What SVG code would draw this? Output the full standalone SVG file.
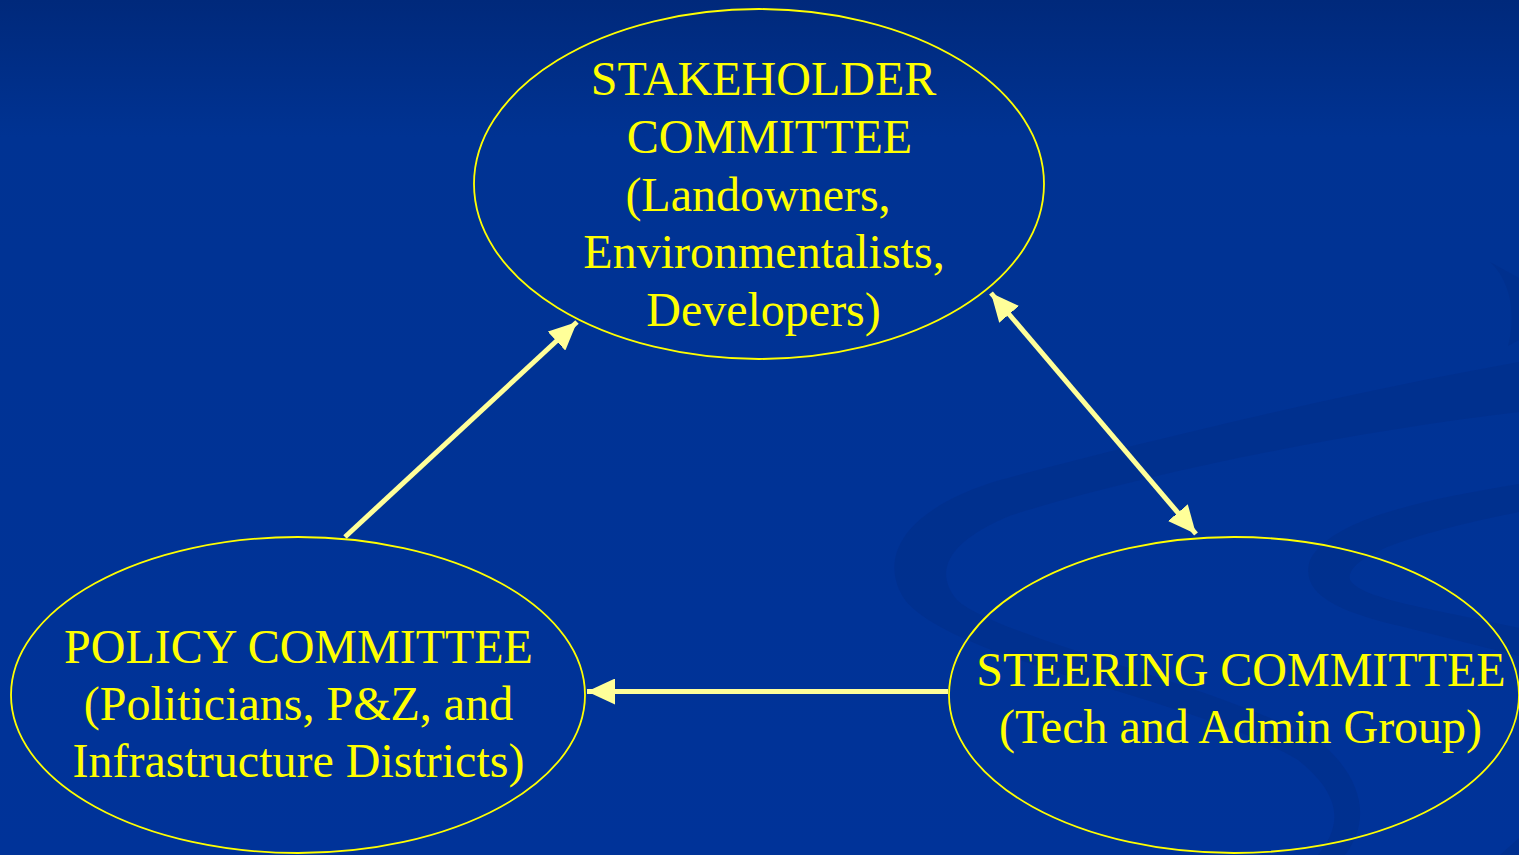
<svg xmlns="http://www.w3.org/2000/svg" width="1519" height="855" viewBox="0 0 1519 855">
  <defs>
    <linearGradient id="bg" x1="0" y1="0" x2="0" y2="1">
      <stop offset="0" stop-color="#00297b"/>
      <stop offset="0.16" stop-color="#003393"/>
      <stop offset="1" stop-color="#003399"/>
    </linearGradient>
    <marker id="head" markerUnits="userSpaceOnUse" markerWidth="28" markerHeight="26" refX="28" refY="13" orient="auto-start-reverse">
      <path d="M0,0 L28,13 L0,26 Z" fill="#ffff99"/>
    </marker>
    <style>
      .node ellipse { fill: none; stroke: #ffff00; stroke-width: 1.8; }
      .node text { font-family: "Liberation Serif", "Times New Roman", serif; font-size: 48px; fill: #ffff00; text-anchor: middle; }
      .link { stroke: #ffff99; stroke-width: 5; fill: none; }
      .swirl { fill: #002d88; opacity: 0.55; }
    </style>
  </defs>

  <!-- background -->
  <rect x="0" y="0" width="1519" height="855" fill="url(#bg)"/>
  <g id="swirls">
    <path class="swirl" d="M1519,362 C1350,392 1150,440 1000,480 C900,510 878,560 905,600 C955,662 1200,700 1298,760 C1348,800 1338,830 1318,855 L1345,855 C1372,820 1362,778 1322,744 C1232,688 1002,640 957,600 C932,570 950,540 1012,515 C1150,472 1350,432 1519,412 Z"/>
    <path class="swirl" d="M1519,484 C1420,500 1330,520 1310,560 C1300,592 1332,610 1400,626 L1519,656 L1519,628 C1440,610 1362,600 1350,580 C1346,558 1400,536 1519,512 Z"/>
    <path class="swirl" d="M1490,262 C1512,282 1516,318 1508,346 L1519,340 L1519,278 Z"/>
    <path class="swirl" d="M1500,855 L1519,838 L1519,855 Z"/>
  </g>

  <!-- connectors -->
  <g id="connectors">
    <line class="link" x1="345" y1="537" x2="577" y2="322" marker-end="url(#head)"/>
    <line class="link" x1="991" y1="293" x2="1196" y2="534" marker-start="url(#head)" marker-end="url(#head)"/>
    <line class="link" x1="948" y1="691.5" x2="587" y2="691.5" marker-end="url(#head)"/>
  </g>

  <g id="stakeholder" class="node">
    <ellipse cx="759" cy="184" rx="285" ry="175"/>
    <text x="763.5" y="95">STAKEHOLDER</text>
    <text x="769.5" y="153">COMMITTEE</text>
    <text x="758" y="211">(Landowners,</text>
    <text x="764" y="268">Environmentalists,</text>
    <text x="763.5" y="326">Developers)</text>
  </g>

  <g id="policy" class="node">
    <ellipse cx="298" cy="695" rx="287" ry="158"/>
    <text x="298.5" y="663">POLICY COMMITTEE</text>
    <text x="298.5" y="720">(Politicians, P&amp;Z, and</text>
    <text x="298.5" y="777">Infrastructure Districts)</text>
  </g>

  <g id="steering" class="node">
    <ellipse cx="1234" cy="695" rx="285" ry="158"/>
    <text x="1241" y="686">STEERING COMMITTEE</text>
    <text x="1240.5" y="743">(Tech and Admin Group)</text>
  </g>
</svg>
